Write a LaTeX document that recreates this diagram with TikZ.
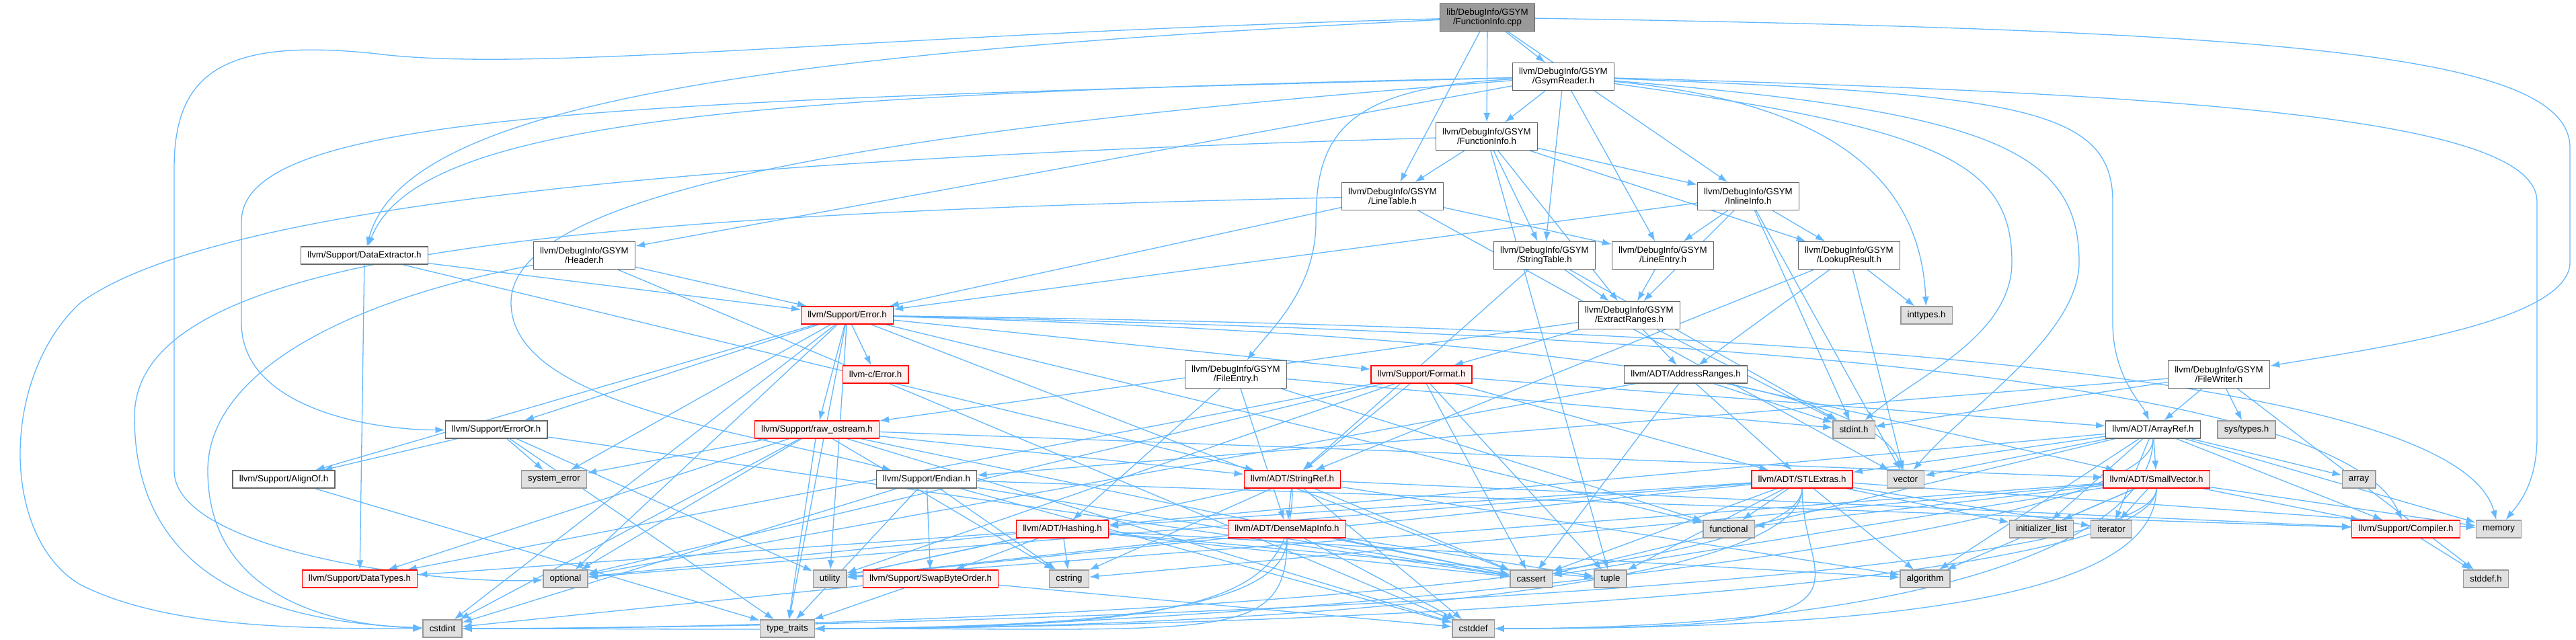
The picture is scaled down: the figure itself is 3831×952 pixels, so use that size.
\documentclass[tikz,border=0pt]{standalone}
\usepackage{fontspec}
\setmainfont{Liberation Sans}
\usepackage{tikz}
\usetikzlibrary{arrows.meta,backgrounds}
\definecolor{edgeblue}{HTML}{63B8FF}
\definecolor{rootgray}{HTML}{999999}
\definecolor{boxgray}{HTML}{666666}
\definecolor{redfill}{HTML}{FFF0F0}
\definecolor{sysfill}{HTML}{E0E0E0}
\definecolor{sysline}{HTML}{999999}

\begin{document}
\begin{tikzpicture}[x=1pt,y=-1pt,
  file/.style={draw=boxgray,fill=white,line width=1.3pt,inner xsep=9.7pt,inner ysep=3pt,
    minimum height=26pt,align=center,font=\fontsize{13.3}{14}\selectfont},
  two/.style={minimum height=41pt},
  root/.style={file,fill=rootgray},
  trunc/.style={file,draw=red,fill=redfill},
  sys/.style={file,draw=sysline,fill=sysfill},
  inc/.style={draw=edgeblue,line width=1.3pt,-{Latex[length=14pt,width=10pt]}}]
  \useasboundingbox (0,0) rectangle (3831,952);

  \node[root,two] (cpp) at (2212,26) {lib/DebugInfo/GSYM\\/FunctionInfo.cpp};
  \node[file,two] (gsr) at (2325,114) {llvm/DebugInfo/GSYM\\/GsymReader.h};
  \node[file,two] (fih) at (2211,203) {llvm/DebugInfo/GSYM\\/FunctionInfo.h};
  \node[file,two] (lt) at (2071,292) {llvm/DebugInfo/GSYM\\/LineTable.h};
  \node[file,two] (ii) at (2600,292) {llvm/DebugInfo/GSYM\\/InlineInfo.h};
  \node[file] (de) at (542,380) {llvm/Support/DataExtractor.h};
  \node[file,two] (hdr) at (869,380) {llvm/DebugInfo/GSYM\\/Header.h};
  \node[file,two] (st) at (2297,380) {llvm/DebugInfo/GSYM\\/StringTable.h};
  \node[file,two] (le) at (2473,380) {llvm/DebugInfo/GSYM\\/LineEntry.h};
  \node[file,two] (lr) at (2750,380) {llvm/DebugInfo/GSYM\\/LookupResult.h};
  \node[trunc] (err) at (1260,469) {llvm/Support/Error.h};
  \node[file,two] (er) at (2423,469) {llvm/DebugInfo/GSYM\\/ExtractRanges.h};
  \node[sys] (intt) at (2865,469) {inttypes.h};
  \node[trunc] (cerr) at (1302,557) {llvm-c/Error.h};
  \node[file,two] (fe) at (1838,557) {llvm/DebugInfo/GSYM\\/FileEntry.h};
  \node[trunc] (fmt) at (2114,557) {llvm/Support/Format.h};
  \node[file] (ar) at (2507,557) {llvm/ADT/AddressRanges.h};
  \node[file,two] (fw) at (3300,557) {llvm/DebugInfo/GSYM\\/FileWriter.h};
  \node[file] (eor) at (738,639) {llvm/Support/ErrorOr.h};
  \node[trunc] (ros) at (1215,639) {llvm/Support/raw\_ostream.h};
  \node[sys] (stdint) at (2757,639) {stdint.h};
  \node[file] (aref) at (3202,639) {llvm/ADT/ArrayRef.h};
  \node[sys] (systypes) at (3341,639) {sys/types.h};
  \node[file] (alof) at (422,713) {llvm/Support/AlignOf.h};
  \node[sys] (syserr) at (824,713) {system\_error};
  \node[file] (endian) at (1378,713) {llvm/Support/Endian.h};
  \node[trunc] (sref) at (1922,713) {llvm/ADT/StringRef.h};
  \node[trunc] (stl) at (2680,713) {llvm/ADT/STLExtras.h};
  \node[sys] (vec) at (2834,713) {vector};
  \node[trunc] (sv) at (3207,713) {llvm/ADT/SmallVector.h};
  \node[sys] (arr) at (3508,713) {array};
  \node[trunc] (hash) at (1580,787) {llvm/ADT/Hashing.h};
  \node[trunc] (dmi) at (1914,787) {llvm/ADT/DenseMapInfo.h};
  \node[sys] (func) at (2571,787) {functional};
  \node[sys] (il) at (3036,787) {initializer\_list};
  \node[sys] (iter) at (3140,787) {iterator};
  \node[trunc] (comp) at (3578,787) {llvm/Support/Compiler.h};
  \node[sys] (mem) at (3716,787) {memory};
  \node[trunc] (dt) at (535,861) {llvm/Support/DataTypes.h};
  \node[sys] (opt) at (841,861) {optional};
  \node[sys] (util) at (1234,861) {utility};
  \node[trunc] (sbo) at (1384,861) {llvm/Support/SwapByteOrder.h};
  \node[sys] (cstr) at (1590,861) {cstring};
  \node[sys] (cas) at (2277,861) {cassert};
  \node[sys] (tup) at (2395,861) {tuple};
  \node[sys] (alg) at (2863,861) {algorithm};
  \node[sys] (stddef) at (3697,861) {stddef.h};
  \node[sys] (cstdint) at (658,935) {cstdint};
  \node[sys] (tt) at (1171,935) {type\_traits};
  \node[sys] (cstddef) at (2191,935) {cstddef};

  \begin{scope}[on background layer]
    \fill[white] (0,0) rectangle (3831,952);
    \foreach \a/\b in {cpp/gsr,cpp/fih,cpp/lt,cpp/ii,
      gsr/fih,gsr/st,gsr/le,gsr/hdr,
      fih/lt,fih/ii,fih/st,fih/lr,fih/er,fih/tup,
      lt/le,lt/err,lt/vec,
      ii/er,ii/le,ii/lr,ii/err,ii/stdint,ii/vec,
      de/sref,de/dt,de/err,hdr/err,hdr/cstddef,
      st/sref,st/er,st/stdint,le/er,
      lr/ar,lr/sref,lr/intt,lr/vec,
      er/ar,er/fmt,er/ros,er/stdint,
      fe/dmi,fe/hash,fe/func,fe/stdint,
      fw/aref,fw/endian,fw/stddef,fw/stdint,fw/systypes,
      err/cerr,err/alof,err/eor,err/fmt,err/ros,err/cas,err/cstdint,
      err/func,err/opt,err/syserr,err/tt,err/util,
      fmt/aref,fmt/stl,fmt/sref,fmt/dt,fmt/cas,fmt/opt,fmt/tup,fmt/util,
      ar/stl,ar/sv,ar/cas,ar/opt,ar/stdint,
      eor/alof,eor/cas,eor/syserr,eor/tt,eor/util,
      ros/sv,ros/sref,ros/dt,ros/cas,ros/cstddef,ros/cstdint,ros/cstr,
      ros/opt,ros/syserr,ros/tt,
      aref/hash,aref/sv,aref/stl,aref/comp,aref/alg,aref/arr,aref/cas,
      aref/il,aref/iter,aref/mem,aref/vec,
      alof/tt,
      endian/comp,endian/sbo,endian/cas,endian/cstddef,endian/cstdint,
      endian/cstr,endian/tt,
      sref/dmi,sref/comp,sref/alg,sref/cas,sref/cstddef,sref/cstr,sref/util,
      stl/hash,stl/alg,stl/cas,stl/func,stl/il,stl/iter,stl/mem,
      stl/opt,stl/tup,stl/util,
      sv/comp,sv/alg,sv/cas,sv/cstr,sv/func,sv/il,sv/iter,sv/mem,sv/util,
      hash/dt,hash/sbo,hash/alg,hash/cas,hash/cstr,hash/opt,hash/tup,hash/util,
      dmi/cas,dmi/cstddef,dmi/tup,dmi/util,
      comp/stddef,sbo/cstddef,sbo/cstdint,sbo/tt}
      \draw[inc] (\a) -- (\b);
    \foreach \a/\b in {sv/cstdint,sv/tt,sv/cstddef,stl/cstdint,stl/tt,stl/cstddef,
      aref/tt,aref/cstddef,dmi/cstdint,dmi/tt,sref/tt}
      \draw[inc] (\a) .. controls +(0,170) and +(650,0) .. (\b);
    \draw[inc] (cpp) .. controls (1300,50) and (800,110) .. (560,80)
      .. controls (330,55) and (259,110) .. (259,250) -- (259,700)
      .. controls (259,820) and (650,870) .. (opt);
    \draw[inc] (cpp) .. controls (1100,80) and (600,160) .. (de);
    \draw[inc] (gsr) .. controls (1100,140) and (620,180) .. (de);
    \draw[inc] (gsr) .. controls (900,150) and (359,170) .. (359,330) -- (359,480)
      .. controls (359,610) and (560,640) .. (eor);
    \draw[inc] (gsr) .. controls (1200,200) and (760,300) .. (760,450)
      .. controls (760,600) and (1100,640) .. (endian);
    \draw[inc] (fih) .. controls (900,240) and (300,320) .. (120,450)
      .. controls (0,560) and (0,800) .. (120,870) .. controls (250,935) and (450,935) .. (cstdint);
    \draw[inc] (lt) .. controls (800,320) and (200,380) .. (200,620)
      .. controls (200,860) and (400,925) .. (cstdint);
    \draw[inc] (hdr) .. controls (500,450) and (309,560) .. (309,700)
      .. controls (309,880) and (480,930) .. (cstdint);
    \draw[inc] (cpp) .. controls (3400,45) and (3822,80) .. (3822,220) -- (3822,390)
      .. controls (3822,480) and (3520,520) .. (fw);
    \draw[inc] (gsr) .. controls (3300,140) and (3773,180) .. (3773,300) -- (3773,650)
      .. controls (3773,720) and (3745,750) .. (mem);
    \draw[inc] (gsr) .. controls (3000,140) and (3142,160) .. (3142,300) -- (3142,480)
      .. controls (3142,560) and (3185,600) .. (aref);
    \draw[inc] (gsr) .. controls (2950,165) and (3092,220) .. (3092,390)
      .. controls (3092,500) and (2920,610) .. (vec);
    \draw[inc] (gsr) .. controls (2880,190) and (2992,240) .. (2992,390)
      .. controls (2992,500) and (2850,560) .. (stdint);
    \draw[inc] (gsr) .. controls (2700,150) and (2855,250) .. (intt);
    \draw[inc] (gsr) .. controls (2000,130) and (1957,200) .. (1957,330)
      .. controls (1957,430) and (1890,490) .. (fe);
    \draw[inc] (err) .. controls (2500,495) and (3480,560) .. (comp);
    \draw[inc] (err) .. controls (2500,485) and (3650,540) .. (mem);
    \draw[inc] (err) .. controls (2200,495) and (2780,560) .. (vec);
  \end{scope}
\end{tikzpicture}
\end{document}
